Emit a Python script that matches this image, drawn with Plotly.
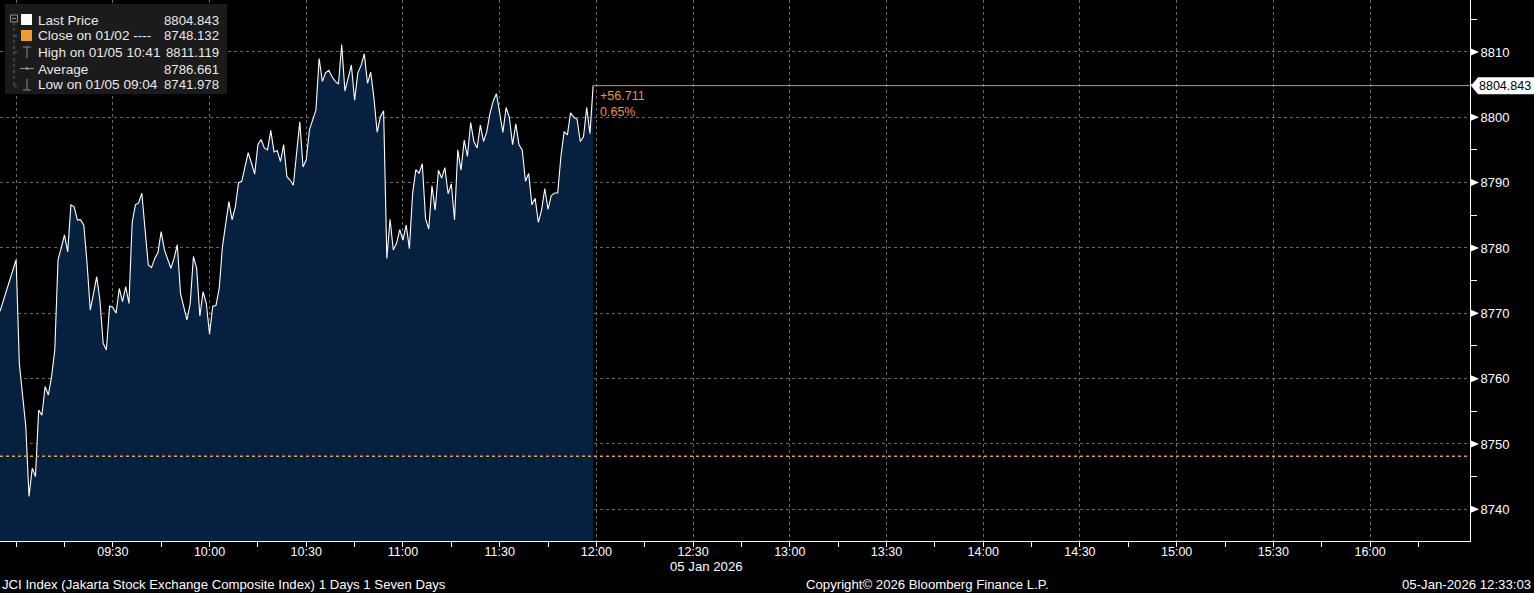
import pandas as pd
import plotly.graph_objects as go

# JCI intraday, 05 Jan 2026 (one point per minute)
DAY = "2026-01-05"
first_time = "08:55"
session_start = "09:00"
jci_values = [
    8770.3,
    8778.2, 8762.3, 8757.2, 8752.7, 8741.98, 8746.3, 8745.0, 8755.2, 8754.4, 8758.8,
    8757.5, 8760.3, 8764.4, 8778.2, 8780.0, 8782.0, 8779.4, 8786.6, 8786.3, 8784.3,
    8784.3, 8783.5, 8777.7, 8770.5, 8773.0, 8775.6, 8772.0, 8765.4, 8764.4, 8771.1,
    8770.9, 8770.0, 8773.8, 8771.8, 8774.1, 8771.5, 8783.9, 8786.6, 8786.9, 8788.4,
    8782.8, 8777.4, 8777.0, 8778.4, 8779.3, 8782.5, 8779.7, 8778.4, 8776.9, 8778.4,
    8780.5, 8773.0, 8771.0, 8769.0, 8771.5, 8778.7, 8776.9, 8769.6, 8773.3, 8771.5,
    8766.8, 8771.1, 8771.2, 8773.8, 8780.2, 8783.3, 8787.1, 8784.3, 8786.3, 8790.0,
    8790.2, 8792.4, 8794.6, 8793.0, 8791.3, 8795.8, 8796.6, 8795.3, 8795.0, 8798.0,
    8794.7, 8794.9, 8793.2, 8795.8, 8790.9, 8790.4, 8789.6, 8794.5, 8799.3, 8792.4,
    8793.5, 8798.1, 8799.6, 8801.1, 8809.0, 8805.5, 8806.8, 8807.2, 8806.2, 8805.5,
    8805.1, 8811.119, 8804.0, 8806.2, 8808.0, 8802.6, 8806.8, 8807.9, 8809.7, 8805.2,
    8806.9, 8802.9, 8797.7, 8800.1, 8801.0, 8778.4, 8784.4, 8779.7, 8780.7, 8782.8,
    8781.2, 8783.5, 8779.9, 8788.4, 8792.0, 8791.4, 8792.9, 8784.5, 8782.9, 8789.5,
    8785.8, 8791.9, 8790.7, 8792.3, 8788.3, 8789.8, 8784.3, 8795.0, 8791.9, 8796.5,
    8794.0, 8799.2, 8796.3, 8795.3, 8798.8, 8796.3, 8797.8, 8800.6, 8802.5, 8803.6,
    8800.6, 8797.7, 8801.5, 8800.0, 8795.8, 8799.0, 8795.8, 8795.0, 8790.2, 8791.4,
    8786.6, 8787.6, 8783.9, 8785.8, 8789.1, 8785.9, 8788.0, 8788.4, 8788.4, 8794.0,
    8797.8, 8797.3, 8800.7, 8800.0, 8799.7, 8796.3, 8797.0, 8801.5, 8797.5, 8804.843,
]
last_price = 8804.843
prev_close = 8748.132
net_change = "+56.711"
pct_change = "0.65%"

legend_labels = ["Last Price", "Close on 01/02 ----", "High on 01/05 10:41", "Average", "Low on 01/05 09:04"]
legend_values = ["8804.843", "8748.132", "8811.119", "8786.661", "8741.978"]

x_tick_times = ["09:00", "09:30", "10:00", "10:30", "11:00", "11:30", "12:00", "12:30",
                "13:00", "13:30", "14:00", "14:30", "15:00", "15:30", "16:00"]
x_tick_labels = ["", "09:30", "10:00", "10:30", "11:00", "11:30", "12:00", "12:30",
                 "13:00", "13:30", "14:00", "14:30", "15:00", "15:30", "16:00"]
y_ticks = [8740, 8750, 8760, 8770, 8780, 8790, 8800, 8810]
y_minor_ticks = [8745, 8755, 8765, 8775, 8785, 8795, 8805, 8815]

x_range = [f"{DAY} 08:55", f"{DAY} 16:31"]
y_range = [8735.15, 8817.95]

times = [pd.Timestamp(f"{DAY} {first_time}")] + list(
    pd.date_range(f"{DAY} {session_start}", periods=len(jci_values) - 1, freq="min")
)
tick_ts = [pd.Timestamp(f"{DAY} {t}") for t in x_tick_times]
minor_ts = [t + pd.Timedelta(minutes=15) for t in tick_ts]

# plot area in pixels: 1470 x 541
PW, PH = 1470.0, 541.0


def px(x):
    return x / PW


def py(y):
    return 1 - y / PH


FONT = "Liberation Sans, Arial, sans-serif"
ORANGE = "#f29b26"
GRID = "#6b6b6b"
ICON = "#8e8e8e"

fig = go.Figure()
fig.add_trace(
    go.Scatter(
        x=times,
        y=jci_values,
        mode="lines",
        line=dict(color="white", width=1.1),
        fill="tozeroy",
        fillcolor="#06203f",
        hoverinfo="skip",
    )
)


def pline(x0, y0, x1, y1, color=ICON, dash="solid"):
    return dict(type="line", xref="paper", yref="paper", x0=px(x0), x1=px(x1), y0=py(y0), y1=py(y1),
                line=dict(color=color, width=1, dash=dash), layer="above")


shapes = [
    # previous close, dotted orange
    dict(type="line", xref="paper", yref="y", x0=0, x1=1, y0=prev_close, y1=prev_close,
         line=dict(color="#e0a050", width=1.5, dash="dot")),
    # last price line
    dict(type="line", xref="x", yref="y", x0=times[-1], x1=x_range[1], y0=last_price, y1=last_price,
         line=dict(color="#e8903a", width=1)),
    # legend box
    dict(type="rect", xref="paper", yref="paper", x0=px(5), x1=px(227), y0=py(94), y1=py(4),
         fillcolor="#1b1b1b", line=dict(width=0), layer="above"),
    # tree lines
    dict(type="rect", xref="paper", yref="paper", x0=px(10.5), x1=px(17.5), y0=py(22), y1=py(15),
         line=dict(color=ICON, width=1), layer="above"),
    pline(12, 18.5, 16, 18.5),
    pline(14, 22, 14, 86, color="#6a6a6a", dash="dot"),
    pline(14, 36, 19, 36, color="#6a6a6a", dash="dot"),
    pline(14, 52, 19, 52, color="#6a6a6a", dash="dot"),
    pline(14, 86, 20, 86, color="#6a6a6a", dash="dot"),
    # swatches
    dict(type="rect", xref="paper", yref="paper", x0=px(21), x1=px(32), y0=py(25), y1=py(14),
         fillcolor="white", line=dict(width=0), layer="above"),
    dict(type="rect", xref="paper", yref="paper", x0=px(21), x1=px(32), y0=py(41), y1=py(30),
         fillcolor=ORANGE, line=dict(width=0), layer="above"),
    # high icon
    pline(27, 58, 27, 47),
    pline(23, 47, 31, 47),
    # average icon
    pline(20, 68.5, 34, 68.5),
    dict(type="circle", xref="paper", yref="paper", x0=px(25.5), x1=px(28.5), y0=py(70), y1=py(67),
         fillcolor=ICON, line=dict(width=0), layer="above"),
    # low icon
    pline(27, 90, 27, 79),
    pline(23, 90, 31, 90),
]

yspan = y_range[1] - y_range[0]

# arrow-shaped major ticks on the right axis
tri = 3.5 / PH * yspan
for v in y_ticks:
    shapes.append(
        dict(type="path", xref="paper", yref="y",
             path=f"M {px(1471)},{v - tri} L {px(1479)},{v} L {px(1471)},{v + tri} Z",
             fillcolor="white", line=dict(width=0))
    )

# arrow marker for last price on the right axis
half = 8.5 / PH * yspan
shapes.append(
    dict(type="path", xref="paper", yref="y",
         path=f"M {px(1471)},{last_price} L {px(1478)},{last_price + half} "
              f"L {px(1534)},{last_price + half} L {px(1534)},{last_price - half} "
              f"L {px(1478)},{last_price - half} Z",
         fillcolor="white", line=dict(width=0))
)

annotations = []
row_y = [20.5, 36, 52.5, 69, 84.5]
for label, value, y in zip(legend_labels, legend_values, row_y):
    annotations.append(dict(xref="paper", yref="paper", x=px(36), y=py(y), text=label,
                            xanchor="left", yanchor="middle", showarrow=False,
                            font=dict(family=FONT, size=13.6, color="#e8e8e8")))
    annotations.append(dict(xref="paper", yref="paper", x=px(221), y=py(y), text=value,
                            xanchor="right", yanchor="middle", showarrow=False,
                            font=dict(family=FONT, size=13.2, color="#e8e8e8")))

FOOT = 13.2
annotations += [
    dict(xref="paper", yref="y", x=px(1477), y=last_price, text="8804.843", xanchor="left",
         yanchor="middle", showarrow=False, font=dict(family=FONT, size=12.5, color="black")),
    dict(xref="x", yref="y", x=times[-1], y=last_price, text=f"{net_change}<br>{pct_change}",
         xanchor="left", yanchor="top", align="left", xshift=5, yshift=-1, showarrow=False,
         font=dict(family=FONT, size=12.5, color="#e8943c")),
    dict(xref="paper", yref="paper", x=px(668), y=py(566), text="05 Jan 2026",
         xanchor="left", yanchor="middle", showarrow=False,
         font=dict(family=FONT, size=FOOT, color="white")),
    dict(xref="paper", yref="paper", x=px(0), y=py(584),
         text="JCI Index (Jakarta Stock Exchange Composite Index) 1 Days 1 Seven Days",
         xanchor="left", yanchor="middle", showarrow=False,
         font=dict(family=FONT, size=FOOT, color="white")),
    dict(xref="paper", yref="paper", x=px(804), y=py(584),
         text="Copyright© 2026 Bloomberg Finance L.P.",
         xanchor="left", yanchor="middle", showarrow=False,
         font=dict(family=FONT, size=FOOT, color="white")),
    dict(xref="paper", yref="paper", x=px(1533), y=py(584), text="05-Jan-2026 12:33:03",
         xanchor="right", yanchor="middle", showarrow=False,
         font=dict(family=FONT, size=FOOT, color="white")),
]

fig.update_layout(
    width=1534,
    height=593,
    margin=dict(l=0, r=64, t=0, b=52, autoexpand=False),
    paper_bgcolor="black",
    plot_bgcolor="black",
    showlegend=False,
    shapes=shapes,
    annotations=annotations,
    font=dict(family=FONT, size=12, color="white"),
)

fig.update_xaxes(
    type="date",
    range=x_range,
    tickvals=tick_ts,
    ticktext=x_tick_labels,
    ticks="outside",
    ticklen=5,
    tickcolor="white",
    tickfont=dict(family=FONT, size=12.5, color="white"),
    ticklabelstandoff=-6,
    showline=True,
    linecolor="white",
    linewidth=1,
    showgrid=True,
    gridcolor=GRID,
    griddash="3px,3px",
    gridwidth=1,
    layer="above traces",
    minor=dict(tickvals=minor_ts, ticks="outside", ticklen=5, tickcolor="white", showgrid=False),
    zeroline=False,
)

fig.update_yaxes(
    side="right",
    range=y_range,
    tickvals=y_ticks,
    ticks="",
    tickfont=dict(family=FONT, size=13, color="white"),
    ticklabelstandoff=7,
    showline=True,
    linecolor="white",
    linewidth=1,
    showgrid=True,
    gridcolor=GRID,
    griddash="3px,3px",
    gridwidth=1,
    layer="above traces",
    minor=dict(tickvals=y_minor_ticks, ticks="outside", ticklen=6, tickcolor="white", showgrid=False),
    zeroline=False,
)

# the page body has a default 8px margin; drop it so the figure fills the window
fig.write_html(
    "out.html",
    config={"displayModeBar": False},
    post_script="document.body.style.margin='0';",
)
